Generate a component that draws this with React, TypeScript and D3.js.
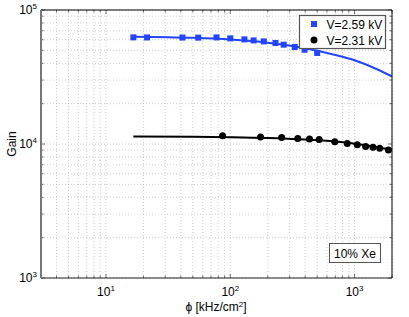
import React from "react";
import * as d3 from "d3";

const phiBlue = [16.6, 21.4, 41.2, 55.2, 77.4, 100, 130, 154, 186, 231, 269, 330, 396, 500];
const gainBlue = [62500, 62400, 62300, 62200, 62450, 61400, 60350, 59300, 58300, 56750, 55100, 52950, 50550, 47800];
const phiBlack = [86.7, 175, 259, 349, 434, 519, 693, 873, 1051, 1227, 1406, 1592, 1871];
const gainBlack = [11530, 11280, 11200, 11010, 10900, 10820, 10400, 10100, 9880, 9600, 9440, 9280, 9020];
const fitPhi = [16.6, 50, 100, 200, 400, 700, 1000, 1500, 2000];
const fitBlue = [63200, 62000, 60200, 57000, 51800, 46200, 42200, 36300, 31900];
const fitBlack = [11380, 11330, 11250, 11100, 10800, 10420, 10060, 9500, 9000];
const xTickExps = [1, 2, 3];
const yTickExps = [3, 4, 5];
const legendLabels = ["V=2.59 kV", "V=2.31 kV"];

const W = 409, H = 317;
const L = 41, R = 392, T = 10, B = 278;
const font = "'Liberation Sans', Arial, Helvetica, sans-serif";

export default function App() {
  const x = d3.scaleLog().domain([3, 2000]).range([L, R]);
  const y = d3.scaleLog().domain([1000, 100000]).range([B, T]);

  const xGrid: number[] = [];
  for (let e = 0; e <= 3; e++) for (let m = 1; m <= 9; m++) {
    const v = m * Math.pow(10, e);
    if (v >= 3 && v <= 2000) xGrid.push(v);
  }
  const yGrid: number[] = [];
  for (let e = 3; e <= 4; e++) for (let m = 1; m <= 9; m++) yGrid.push(m * Math.pow(10, e));
  yGrid.push(100000);

  const line = d3.line<[number, number]>().x(d => x(d[0])).y(d => y(d[1])).curve(d3.curveMonotoneX);
  const blueLine = line(fitPhi.map((p, i) => [p, fitBlue[i]] as [number, number]))!;
  const blackLine = line(fitPhi.map((p, i) => [p, fitBlack[i]] as [number, number]))!;
  const blue = "#2244ff";

  return (
    <svg width={W} height={H} style={{ position: "absolute", left: 0, top: 0 }} fontFamily={font}>
      <rect x={0} y={0} width={W} height={H} fill="#fff" />
      <defs>
        <clipPath id="plot"><rect x={L} y={T} width={R - L} height={B - T} /></clipPath>
      </defs>
      {xGrid.map((v, i) => (
        <line key={"xg" + i} x1={x(v)} x2={x(v)} y1={T} y2={B} stroke="#c4c4c4" strokeWidth={0.8} strokeDasharray="1,2" />
      ))}
      {yGrid.map((v, i) => (
        <line key={"yg" + i} x1={L} x2={R} y1={y(v)} y2={y(v)} stroke="#c4c4c4" strokeWidth={0.8} strokeDasharray="1,2" />
      ))}
      {xGrid.map((v, i) => {
        const major = Number.isInteger(Math.log10(v));
        const len = major ? 4 : 2.5;
        return (
          <g key={"xt" + i} stroke="#333" strokeWidth={0.7}>
            <line x1={x(v)} x2={x(v)} y1={B} y2={B - len} />
            <line x1={x(v)} x2={x(v)} y1={T} y2={T + len} />
          </g>
        );
      })}
      {yGrid.map((v, i) => {
        const major = Number.isInteger(Math.log10(v));
        const len = major ? 4 : 2.5;
        return (
          <g key={"yt" + i} stroke="#333" strokeWidth={0.7}>
            <line x1={L} x2={L + len} y1={y(v)} y2={y(v)} />
            <line x1={R} x2={R - len} y1={y(v)} y2={y(v)} />
          </g>
        );
      })}
      <g clipPath="url(#plot)">
        <path d={blueLine} fill="none" stroke={blue} strokeWidth={2} />
        <path d={blackLine} fill="none" stroke="#000" strokeWidth={2} />
        {phiBlue.map((p, i) => (
          <rect key={"b" + i} x={x(p) - 3} y={y(gainBlue[i]) - 3} width={6} height={6} fill={blue} />
        ))}
        {phiBlack.map((p, i) => (
          <circle key={"k" + i} cx={x(p)} cy={y(gainBlack[i])} r={3.5} fill="#000" />
        ))}
      </g>
      <line x1={L} x2={R} y1={T} y2={T} stroke="#000" strokeWidth={1} />
      <line x1={R} x2={R} y1={T} y2={B} stroke="#000" strokeWidth={1} />
      <line x1={L} x2={R} y1={B} y2={B} stroke="#222" strokeWidth={1.2} />
      <line x1={L} x2={L} y1={T} y2={B} stroke="#777" strokeWidth={2} />
      {xTickExps.map(e => (
        <text key={"xl" + e} x={x(Math.pow(10, e))} y={296} fontSize={12} textAnchor="middle" fill="#000">
          10<tspan dy={-5} fontSize={8}>{e}</tspan>
        </text>
      ))}
      {yTickExps.map(e => (
        <text key={"yl" + e} x={37} y={y(Math.pow(10, e)) + 4} fontSize={12} textAnchor="end" fill="#000">
          10<tspan dy={-5} fontSize={8}>{e}</tspan>
        </text>
      ))}
      <text x={216} y={311} fontSize={12} textAnchor="middle" fill="#000">
        ϕ [kHz/cm<tspan dy={-4} fontSize={8}>2</tspan><tspan dy={4}>]</tspan>
      </text>
      <text transform={`translate(16,144) rotate(-90)`} fontSize={12} textAnchor="middle" fill="#000">Gain</text>
      <rect x={299.5} y={15.5} width={86} height={33} fill="#fff" stroke="#555" strokeWidth={1.2} />
      <rect x={311} y={21} width={6} height={6} fill={blue} />
      <circle cx={314} cy={40} r={3.5} fill="#000" />
      <text x={326.5} y={28.5} fontSize={12} fill="#000">{legendLabels[0]}</text>
      <text x={326.5} y={45} fontSize={12} fill="#000">{legendLabels[1]}</text>
      <rect x={329.5} y={243.5} width={51} height={19} fill="#fff" stroke="#555" strokeWidth={1} />
      <text x={355} y={257.5} fontSize={12} textAnchor="middle" fill="#000">10% Xe</text>
    </svg>
  );
}
